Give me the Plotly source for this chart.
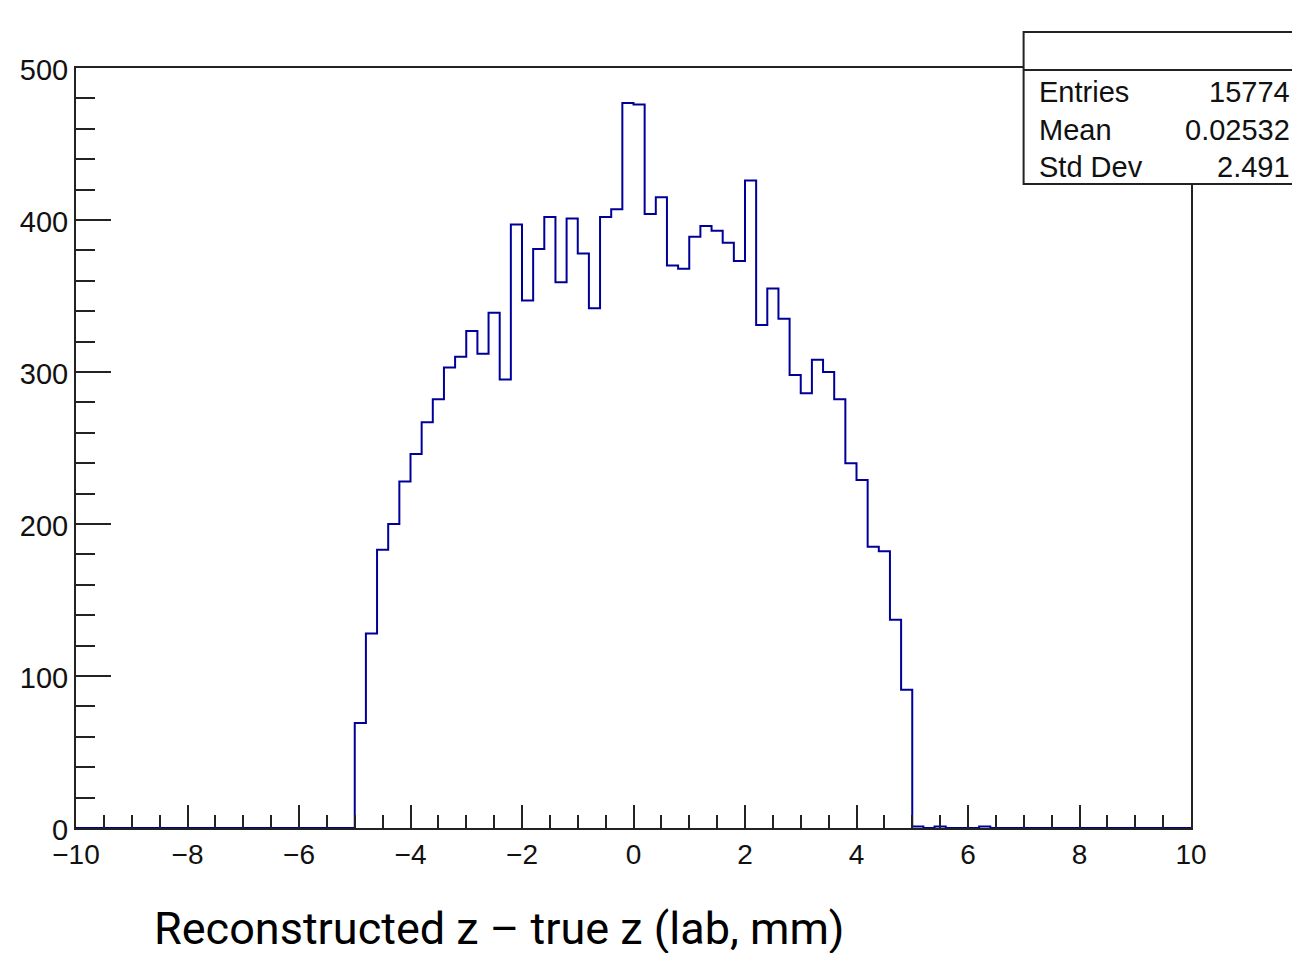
import numpy as np
import plotly.graph_objects as go

# Histogram: 100 bins from -10 to 10 (bin width 0.2)
x_min, x_max, n_bins = -10.0, 10.0, 100
counts = [
    0, 0, 0, 0, 0, 0, 0, 0, 0, 0,          # -10.0 .. -8.2
    0, 0, 0, 0, 0, 0, 0, 0, 0, 0,          # -8.0 .. -6.2
    0, 0, 0, 0, 0,                          # -6.0 .. -5.2
    69, 128, 183, 200, 228, 246, 267, 282, 303, 310,     # -5.0 .. -3.2
    327, 312, 339, 295, 397, 347, 381, 402, 359, 401,    # -3.0 .. -1.2
    378, 342, 402, 407, 477,                             # -1.0 .. -0.2
    476, 404, 415, 370, 368, 389, 396, 393, 385, 373,    # 0.0 .. 1.8
    426, 331, 355, 335, 298, 286, 308, 300, 282, 240,    # 2.0 .. 3.8
    229, 185, 182, 137, 91,                              # 4.0 .. 4.8
    1, 0, 1, 0, 0, 0, 1, 0, 0, 0,           # 5.0 .. 6.8
    0, 0, 0, 0, 0, 0, 0, 0, 0, 0,           # 7.0 .. 8.8
    0, 0, 0, 0, 0,                          # 9.0 .. 9.8
]
x_tick_vals = [-10, -8, -6, -4, -2, 0, 2, 4, 6, 8, 10]
x_tick_text = ["\u221210", "\u22128", "\u22126", "\u22124", "\u22122", "0", "2", "4", "6", "8", "10"]
y_tick_vals = [0, 100, 200, 300, 400, 500]

stat_names = ["Entries", "Mean", "Std Dev"]
stat_values = ["15774", "0.02532", "2.491"]
x_title = "Reconstructed z \u2013 true z (lab, mm)"

edges = np.linspace(x_min, x_max, n_bins + 1)
step_y = list(counts) + [counts[-1]]

OFF = 8  # page body margin offset
W, H = 1300, 953
# desired absolute plot area: x 72..1191, y 68..828
ML, MT = 72 - OFF, 68 - OFF
MR = W - (1191 - OFF)
MB = H - (828 - OFF)
pw, ph = W - ML - MR, H - MT - MB


def px_x(p):
    return (p - OFF - ML) / pw


def px_y(p):
    return (H - MB - (p - OFF)) / ph


fig = go.Figure()
fig.add_trace(go.Scatter(
    x=edges, y=step_y, mode="lines", line_shape="hv",
    line=dict(color="#000099", width=2), hoverinfo="skip", showlegend=False,
))

xfont = dict(family="Liberation Sans, Arial, sans-serif", size=28, color="#111111")
yfont = dict(family="Liberation Sans, Arial, sans-serif", size=29, color="#111111")
fig.update_xaxes(
    range=[x_min, x_max], showgrid=False, zeroline=False,
    showline=True, linewidth=2, linecolor="#222222", mirror=True,
    ticks="inside", ticklen=23, tickwidth=2, tickcolor="#222222",
    tickvals=x_tick_vals, ticktext=x_tick_text, tickfont=xfont,
    minor=dict(ticks="inside", ticklen=13, tickwidth=2, tickcolor="#222222", dtick=0.5),
)
fig.update_yaxes(
    range=[0, 500], showgrid=False, zeroline=False,
    showline=True, linewidth=2, linecolor="#222222", mirror=True,
    ticks="inside", ticklen=35, tickwidth=2, tickcolor="#222222",
    tickvals=y_tick_vals, tickfont=yfont, ticklabelshift=2,
    minor=dict(ticks="inside", ticklen=19, tickwidth=2, tickcolor="#222222", dtick=20),
)

# Stats box
box_l, box_r, box_t, box_sep, box_b = 1023, 1330, 32, 70, 184
fig.add_shape(type="rect", xref="paper", yref="paper",
              x0=px_x(box_l), x1=px_x(box_r), y0=px_y(box_b), y1=px_y(box_t),
              fillcolor="white", line=dict(color="#222222", width=2), layer="above")
fig.add_shape(type="line", xref="paper", yref="paper",
              x0=px_x(box_l), x1=px_x(box_r), y0=px_y(box_sep), y1=px_y(box_sep),
              line=dict(color="#222222", width=2), layer="above")

stat_font = dict(family="Liberation Sans, Arial, sans-serif", size=29, color="#111111")
row_y = [92, 130, 167]
for name, val, ry in zip(stat_names, stat_values, row_y):
    fig.add_annotation(xref="paper", yref="paper", x=px_x(1036), y=px_y(ry),
                       text=name, showarrow=False, xanchor="left", yanchor="middle",
                       font=stat_font)
    fig.add_annotation(xref="paper", yref="paper", x=px_x(1292), y=px_y(ry),
                       text=val, showarrow=False, xanchor="right", yanchor="middle",
                       font=stat_font)

fig.add_annotation(xref="paper", yref="paper", x=px_x(148), y=px_y(928),
                   text=x_title, showarrow=False, xanchor="left", yanchor="middle",
                   font=dict(family="Roboto, sans-serif", size=45, color="#000000"))

fig.update_layout(
    width=W, height=H,
    margin=dict(l=ML, r=MR, t=MT, b=MB),
    paper_bgcolor="white", plot_bgcolor="white",
    showlegend=False,
)

fig.write_html("out.html")
